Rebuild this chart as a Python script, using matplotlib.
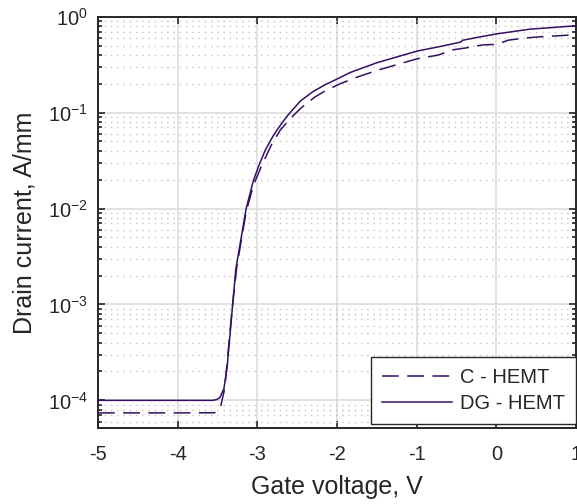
import numpy as np
import matplotlib
matplotlib.use('Agg')
import matplotlib.pyplot as plt
from matplotlib.ticker import LogLocator, FixedLocator, NullFormatter

plt.rcParams['font.family'] = ['Liberation Sans', 'DejaVu Sans']
plt.rcParams['axes.unicode_minus'] = False
plt.rcParams['mathtext.default'] = 'regular'

# DG - HEMT (solid), gate voltage in V and drain current in A/mm
v_dg = [-5.0, -4.0, -3.56, -3.51, -3.47, -3.42, -3.38, -3.35, -3.31, -3.27,
        -3.21, -3.14, -3.05, -2.98, -2.90, -2.80, -2.71, -2.62, -2.46, -2.30,
        -2.15, -2.00, -1.83, -1.50, -1.25, -1.00, -0.70, -0.45, -0.42, -0.20,
        0.00, 0.42, 1.00]
i_dg = [1.00e-4, 1.00e-4, 1.00e-4, 1.02e-4, 1.07e-4, 1.32e-4, 2.19e-4, 4.17e-4,
        1.00e-3, 2.34e-3, 4.57e-3, 1.00e-2, 1.95e-2, 2.82e-2, 4.07e-2, 5.75e-2,
        7.41e-2, 9.33e-2, 0.132, 0.166, 0.195, 0.224, 0.263, 0.331, 0.380, 0.437,
        0.490, 0.543, 0.569, 0.617, 0.661, 0.741, 0.804]

# C - HEMT (dashed)
v_c = [-5.0, -4.0, -3.54, -3.50, -3.46, -3.41, -3.35, -3.31, -3.26, -3.14,
       -3.05, -2.95, -2.82, -2.71, -2.56, -2.45, -2.28, -2.14, -1.96, -1.75,
       -1.50, -1.25, -1.00, -0.73, -0.54, -0.38, -0.18, -0.04, 0.05, 0.15,
       0.36, 0.57, 0.80, 1.00]
i_c = [7.40e-5, 7.40e-5, 7.42e-5, 7.70e-5, 8.70e-5, 1.32e-4, 4.47e-4, 1.00e-3,
       2.40e-3, 9.33e-3, 1.74e-2, 2.75e-2, 4.68e-2, 6.61e-2, 9.12e-2, 0.112,
       0.145, 0.170, 0.200, 0.234, 0.275, 0.316, 0.363, 0.398, 0.452, 0.473,
       0.507, 0.513, 0.531, 0.569, 0.600, 0.619, 0.634, 0.650]

x_ticks = [-5, -4, -3, -2, -1, 0, 1]
y_ticks = [1e-4, 1e-3, 1e-2, 1e-1, 1e0]
labels = ['C - HEMT', 'DG - HEMT']

line_color = '#341063'
text_color = '#262626'

fig = plt.figure(figsize=(5.77, 5.04), dpi=100)
ax = fig.add_axes([98 / 577, 1 - 428 / 504, 478 / 577, 411.3 / 504])

ax.plot(v_c, i_c, color=line_color, lw=1.1, linestyle=(0, (11, 5.5)), label=labels[0], zorder=3)
ax.plot(v_dg, i_dg, color=line_color, lw=1.1, label=labels[1], zorder=3)

ax.set_yscale('log')
ax.set_xlim(-5, 1)
ax.set_ylim(5.15e-5, 1.0)

ax.xaxis.set_major_locator(FixedLocator(x_ticks))
ax.yaxis.set_major_locator(FixedLocator(y_ticks))
ax.yaxis.set_minor_locator(LogLocator(base=10, subs=np.arange(2, 10)))
ax.yaxis.set_minor_formatter(NullFormatter())

# grid like matlab: solid major, dotted minor on log axis
ax.grid(True, which='major', color='#dadada', lw=1.1, zorder=0)
ax.grid(True, which='minor', axis='y', color='#c4c4c4', lw=1.0, linestyle=(0, (1, 3.5)), zorder=0)
ax.set_axisbelow(True)

ax.tick_params(which='both', direction='in', top=True, right=True, colors=text_color,
               labelsize=14.5, width=1.2)
ax.tick_params(which='major', length=5)
ax.tick_params(which='minor', length=3)
ax.tick_params(axis='x', which='major', pad=12)
ax.tick_params(axis='y', which='major', pad=7)
for s in ax.spines.values():
    s.set_color(text_color)
    s.set_linewidth(1.4)

ax.set_xlabel('Gate voltage, V', fontsize=18, color=text_color, labelpad=8)
ax.set_ylabel('Drain current, A/mm', fontsize=18, color=text_color, labelpad=8)

leg = ax.legend(loc='lower right', bbox_to_anchor=(1.0, 0.009), borderaxespad=0,
                fontsize=14.5, handlelength=3.45, handletextpad=0.4, borderpad=0.55,
                labelspacing=0.35, fancybox=False, framealpha=1, edgecolor=text_color)
leg.get_frame().set_linewidth(1.0)
for t in leg.get_texts():
    t.set_color(text_color)

fig.savefig('out.png', dpi=100)
